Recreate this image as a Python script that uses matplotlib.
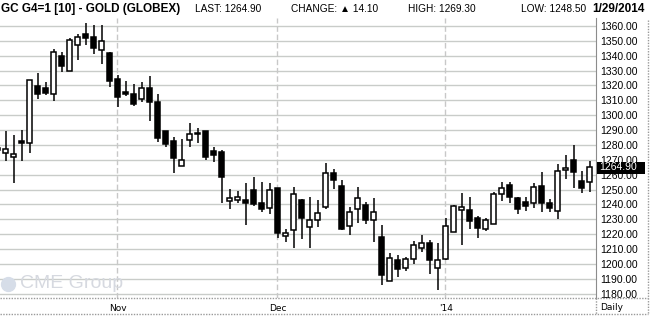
import numpy as np
import matplotlib
matplotlib.use("Agg")
import matplotlib.pyplot as plt
from matplotlib.lines import Line2D
from matplotlib.patches import Rectangle

# daily gold futures candles (index 0 is cut off at left edge)
opens = [1278.0, 1274.4, 1271.6, 1282.6, 1281.1, 1319.6, 1318.1, 1314.0, 1339.8, 1330.0,
         1347.0, 1354.6, 1352.6, 1343.9, 1341.8, 1324.4, 1315.6, 1314.3, 1311.1, 1318.1,
         1308.9, 1289.4, 1282.7, 1265.6, 1283.1, 1288.3, 1289.4, 1275.9, 1275.3, 1242.1,
         1242.8, 1242.8, 1249.5, 1241.0, 1237.4, 1250.8, 1218.6, 1222.8, 1243.0, 1224.6,
         1229.5, 1238.5, 1260.9, 1252.2, 1225.5, 1236.7, 1239.6, 1229.3, 1217.9, 1188.3,
         1202.4, 1197.0, 1203.3, 1210.5, 1213.9, 1197.0, 1203.5, 1221.7, 1236.3, 1236.5,
         1230.6, 1223.7, 1226.6, 1246.8, 1252.9, 1244.1, 1241.6, 1240.7, 1252.4, 1240.7,
         1235.4, 1263.0, 1269.9, 1255.5, 1254.9]
highs = [1285.6, 1289.4, 1286.7, 1290.1, 1323.5, 1328.6, 1322.3, 1344.5, 1342.3, 1351.7,
         1354.6, 1361.8, 1360.7, 1360.7, 1342.5, 1327.0, 1323.0, 1321.0, 1322.1, 1326.4,
         1314.3, 1289.4, 1285.1, 1284.0, 1294.8, 1291.4, 1289.4, 1278.6, 1276.6, 1250.4,
         1249.3, 1254.6, 1258.2, 1255.1, 1254.4, 1250.8, 1223.7, 1251.5, 1243.4, 1244.8,
         1242.8, 1267.9, 1263.6, 1256.2, 1238.3, 1251.7, 1241.9, 1244.1, 1225.9, 1207.1,
         1205.8, 1204.9, 1215.6, 1219.4, 1216.1, 1213.9, 1230.6, 1239.6, 1247.9, 1244.8,
         1232.2, 1230.6, 1248.4, 1255.1, 1255.1, 1245.2, 1245.2, 1254.6, 1261.6, 1243.7,
         1267.2, 1273.2, 1280.0, 1262.3, 1269.3]
lows = [1267.7, 1269.4, 1254.2, 1269.4, 1274.8, 1310.9, 1313.8, 1309.8, 1329.3, 1330.0,
        1337.4, 1347.4, 1340.9, 1334.7, 1319.2, 1305.7, 1313.2, 1306.4, 1309.1, 1296.3,
        1281.8, 1278.9, 1261.4, 1265.6, 1278.9, 1281.1, 1269.9, 1268.3, 1241.2, 1236.7,
        1240.8, 1226.4, 1239.0, 1234.9, 1233.8, 1217.2, 1214.5, 1210.5, 1216.8, 1210.5,
        1224.6, 1237.2, 1250.6, 1222.8, 1219.2, 1227.3, 1226.8, 1215.0, 1186.0, 1188.3,
        1191.4, 1195.5, 1200.2, 1208.2, 1193.4, 1182.5, 1202.6, 1221.2, 1212.5, 1223.7,
        1217.7, 1222.4, 1226.6, 1242.5, 1240.7, 1233.3, 1235.8, 1237.4, 1235.1, 1235.1,
        1230.4, 1256.9, 1251.3, 1247.5, 1248.5]
closes = [1276.5, 1277.3, 1273.7, 1281.5, 1323.4, 1314.0, 1315.2, 1342.3, 1333.3, 1350.4,
          1352.4, 1351.7, 1344.8, 1349.7, 1323.2, 1312.5, 1314.5, 1307.8, 1318.1, 1308.7,
          1284.9, 1280.9, 1271.4, 1269.9, 1287.1, 1287.1, 1272.1, 1273.5, 1258.2, 1244.1,
          1245.0, 1240.7, 1240.5, 1237.2, 1249.9, 1221.0, 1220.6, 1246.8, 1231.1, 1229.5,
          1234.0, 1260.9, 1256.2, 1223.7, 1234.7, 1244.1, 1229.3, 1234.9, 1192.8, 1203.8,
          1196.4, 1203.3, 1212.5, 1213.9, 1202.9, 1202.4, 1225.3, 1238.7, 1238.1, 1228.6,
          1224.4, 1229.5, 1246.8, 1250.8, 1244.8, 1237.2, 1239.2, 1251.5, 1240.7, 1237.8,
          1262.3, 1264.3, 1262.0, 1250.8, 1264.9]

month_pos = [15, 35, 56]
month_labels = ["Nov", "Dec", "'14"]
price_ticks = list(range(1180, 1361, 10))
last_price = 1264.90

W, H = 654, 321
fig = plt.figure(figsize=(W / 100, H / 100), dpi=100)
fig.patch.set_facecolor("white")

# plot area in pixels: x 0..596, y 18..298
ax = fig.add_axes([0, (H - 298) / H, 595.7 / W, (298 - 18) / H])
ax.set_xlim(0.2875, 74.75)
ax.set_ylim(1177.1, 1365.3)

# grid
for p in price_ticks:
    ax.axhline(p, color="#c9ccc9", lw=1, zorder=0)
for m in month_pos:
    ax.axvline(m - 0.05, color="#c8c8c8", lw=1, ls=(0, (4, 2)), zorder=0)

x = np.arange(len(opens))
o = np.array(opens)
c = np.array(closes)
up = c >= o
ax.vlines(x, lows, highs, color="black", lw=1.1, zorder=2)
bottoms = np.minimum(o, c)
heights = np.maximum(np.abs(c - o), 0.6)
ax.bar(x[up], heights[up], bottom=bottoms[up], width=0.68,
       color="white", edgecolor="black", lw=1.1, zorder=3)
ax.bar(x[~up], heights[~up], bottom=bottoms[~up], width=0.68,
       color="black", edgecolor="black", lw=1.1, zorder=3)

# axes look
for s in ["top", "left", "bottom"]:
    ax.spines[s].set_visible(False)
ax.spines["right"].set_color("#8c8c8c")
ax.yaxis.tick_right()
ax.set_yticks(price_ticks)
ax.set_yticklabels(["%.2f" % p for p in price_ticks], family="Liberation Sans", fontsize=7.5)
ax.tick_params(axis="y", length=0, pad=3)
ax.set_xticks(month_pos)
ax.set_xticklabels(month_labels, family="DejaVu Sans", fontsize=6.5)
ax.tick_params(axis="x", length=0, pad=4)


def fx(px):
    return px / W


def fy(py):
    return 1 - py / H


# last price box (covers parts of the 1260/1270 labels like the original)
fig.add_artist(Rectangle((fx(597), fy(173.5)), fx(48), 12 / H, fc="black", ec="none", zorder=5))
fig.text(fx(599), fy(167.5), "1264.90", color="white", fontsize=7.5, family="Liberation Sans",
         va="center", ha="left", zorder=6)

# frame lines
dot = dict(color="#9a9a9a", lw=1, ls=(0, (1, 1)))
fig.add_artist(Line2D([fx(0), fx(648)], [fy(298), fy(298)], **dot))
fig.add_artist(Line2D([fx(0), fx(648)], [fy(314), fy(314)], **dot))
fig.add_artist(Line2D([fx(647.5), fx(647.5)], [fy(20), fy(314)], **dot))
fig.add_artist(Line2D([fx(595.7), fx(595.7)], [fy(298), fy(314)], **dot))

fig.text(fx(600), fy(307), "Daily", family="DejaVu Sans", fontsize=6.5, va="center", ha="left")

# header
hy = fy(9)
fig.text(fx(1), hy, "GC G4=1 [10] - GOLD (GLOBEX)", family="Liberation Sans",
         weight="bold", fontsize=8.5, va="center", ha="left")
fig.text(fx(195), hy, "LAST: 1264.90", family="Liberation Sans", fontsize=7.3, va="center")
fig.text(fx(291), hy, "CHANGE: \u25b2 14.10", family=["Liberation Sans", "DejaVu Sans"],
         fontsize=7.3, va="center")
fig.text(fx(408), hy, "HIGH: 1269.30", family="Liberation Sans", fontsize=7.3, va="center")
fig.text(fx(521), hy, "LOW: 1248.50", family="Liberation Sans", fontsize=7.3, va="center")
fig.text(fx(645), hy, "1/29/2014", family="Liberation Sans",
         weight="bold", fontsize=8.5, va="center", ha="right")

# watermark
fig.text(fx(20), fy(284), "CME Group", family="Liberation Sans", fontsize=14, color="#d6d9e0",
         va="center", ha="left", zorder=1)
fig.add_artist(Line2D([fx(8)], [fy(284)], marker="o", markersize=10, color="#d6dde8", lw=0))

fig.savefig("out.png", dpi=100)
